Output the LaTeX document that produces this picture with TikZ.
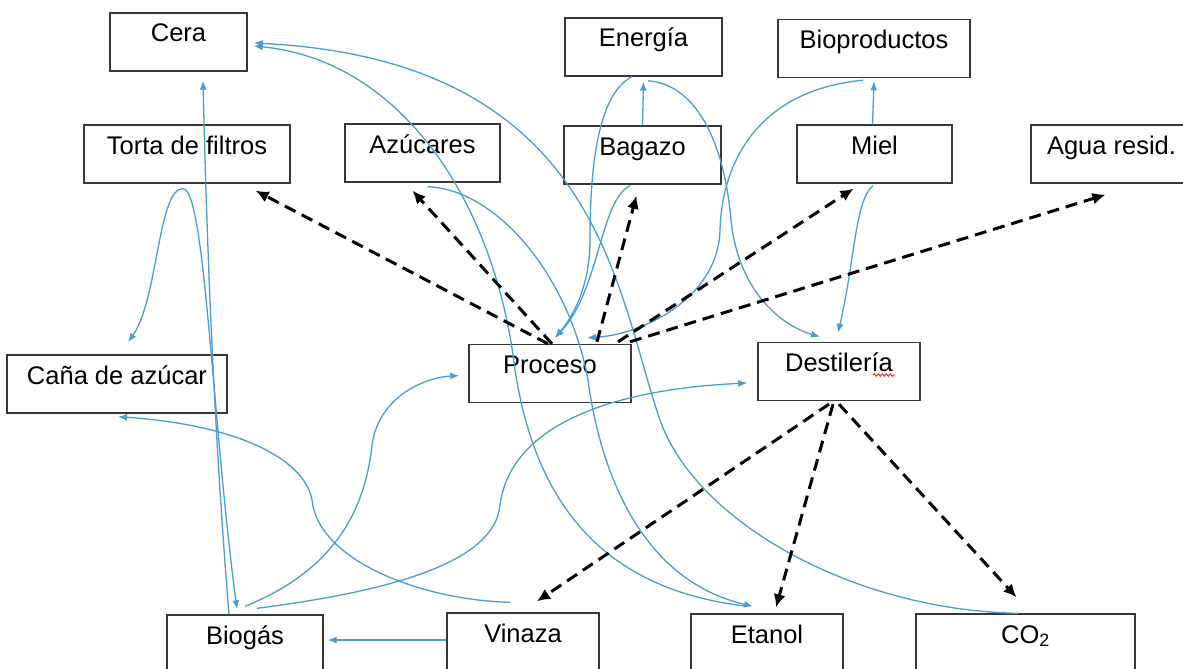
\documentclass[tikz,border=0pt]{standalone}
\usepackage{fontspec}
\setmainfont{Liberation Sans}
\usetikzlibrary{arrows.meta,decorations.pathmorphing}
\definecolor{flowblue}{RGB}{74,156,214}
\definecolor{boxgray}{RGB}{55,55,55}
\begin{document}
\begin{tikzpicture}[x=1pt,y=-1pt,
  procbox/.style={draw=boxgray, line width=1.4pt, inner xsep=0pt, inner ysep=0pt,
    text height=29pt, text depth=29pt, font=\fontsize{25.5}{30}\selectfont},
  flow/.style={draw=flowblue, line width=1.3pt, -{Latex[length=9pt,width=7pt]}},
  dashflow/.style={draw=black, line width=3pt, dash pattern=on 12pt off 7pt,
    -{Latex[length=13pt,width=12pt]}},
  spell/.style={draw=red, line width=0.8pt, decorate,
    decoration={snake,amplitude=1.2pt,segment length=4pt}}]
\useasboundingbox (0,0) rectangle (1183,669);
\fill[white] (0,0) rectangle (1183,669);
\clip (0,0) rectangle (1183,669);

% boxes
\node[procbox, minimum width=137pt] (cera)     at (178.5,42)  {Cera};
\node[procbox, minimum width=206pt] (torta)    at (187,154)   {Torta de filtros};
\node[procbox, minimum width=155pt] (azucares) at (422.5,153) {Azúcares};
\node[procbox, minimum width=157pt] (energia)  at (643.5,47)  {Energía};
\node[procbox, minimum width=157pt] (bagazo)   at (642.5,155) {Bagazo};
\node[procbox, minimum width=192pt] (bioprod)  at (874,48.5)  {Bioproductos};
\node[procbox, minimum width=155pt] (miel)     at (874.5,154) {Miel};
\node[procbox, minimum width=161pt] (agua)     at (1111.5,154) {Agua resid.};
\node[procbox, minimum width=220pt] (cana)     at (117,384)   {Caña de azúcar};
\node[procbox, minimum width=162pt] (proceso)  at (550,373.5) {Proceso};
\node[procbox, minimum width=162pt] (destil)   at (839,371.5) {Destilería};
\node[procbox, minimum width=156pt] (biogas)   at (245,644)   {Biogás};
\node[procbox, minimum width=152pt] (vinaza)   at (523,642)   {Vinaza};
\node[procbox, minimum width=152pt] (etanol)   at (767,643)   {Etanol};
\node[procbox, minimum width=219pt] (co2)      at (1025.5,643) {CO\textsubscript{2}};

% spell-check underline
\draw[spell] ([xshift=34pt,yshift=-3.5pt]destil.center) -- ([xshift=56pt,yshift=-3.5pt]destil.center);

% blue flows
\draw[flow] (bagazo.north) -- ([yshift=-5pt]energia.south);
\draw[flow] ([xshift=-2pt]miel.north) -- ([yshift=-3pt]bioprod.south);
\draw[flow] ([yshift=2pt]vinaza.west) -- ([xshift=4pt,yshift=4pt]biogas.east);
\draw[flow] ([xshift=-16pt]biogas.north) .. controls (214,430) and (207,250) .. ([xshift=24.5pt,yshift=-9pt]cera.south);
\draw[flow] ([xshift=-4pt,yshift=-5pt]torta.south) .. controls (158,188) and (158,300) .. ([xshift=11pt,yshift=12pt]cana.north);
\draw[flow] ([xshift=-4pt,yshift=-5pt]torta.south) .. controls (205,188) and (212,420) .. ([xshift=-8pt,yshift=5pt]biogas.north);
\draw[flow] ([xshift=-13pt,yshift=10pt]vinaza.north) .. controls (420,600) and (318,560) .. (312,500)
  .. controls (305,460) and (240,425) .. ([xshift=1pt,yshift=-3pt]cana.south);
\draw[flow] ([yshift=8pt]biogas.north) .. controls (335,570) and (365,510) .. (372,445)
  .. controls (378,400) and (420,378) .. ([xshift=-9pt,yshift=-2pt]proceso.west);
\draw[flow] ([xshift=12pt,yshift=6pt]biogas.north) .. controls (400,590) and (495,560) .. (500,505)
  .. controls (510,430) and (600,390) .. ([xshift=-10pt,yshift=-11.5pt]destil.west);
\draw[flow] ([xshift=-7.5pt]co2.north) .. controls (850,610) and (695,520) .. (660,420)
  .. controls (615,290) and (600,60) .. ([xshift=6pt,yshift=-1pt]cera.east);
\draw[flow] ([xshift=-19pt,yshift=7pt]etanol.north) .. controls (600,590) and (535,500) .. (515,370)
  .. controls (495,200) and (400,60) .. ([xshift=6pt,yshift=-4pt]cera.east);
\draw[flow] ([xshift=5pt,yshift=-4pt]azucares.south) .. controls (500,190) and (570,280) .. (588,380)
  .. controls (600,470) and (640,580) .. ([xshift=-14pt,yshift=7pt]etanol.north);
\draw[flow] ([xshift=-11.5pt]energia.south) .. controls (595,95) and (590,180) .. (590,240)
  .. controls (590,290) and (570,320) .. ([xshift=5pt,yshift=6pt]proceso.north);
\draw[flow] ([xshift=-12.5pt,yshift=-1pt]bagazo.south) .. controls (600,200) and (600,290) .. ([xshift=5pt,yshift=6pt]proceso.north);
\draw[flow] ([xshift=4.5pt,yshift=-4pt]energia.south) .. controls (700,85) and (725,150) .. (731,220)
  .. controls (738,290) and (780,325) .. ([xshift=-19pt,yshift=5pt]destil.north);
\draw[flow] ([xshift=-1.5pt,yshift=-2pt]miel.south) .. controls (855,200) and (855,260) .. ([xshift=-1pt,yshift=9pt]destil.north);
\draw[flow] ([xshift=-11pt,yshift=-2pt]bioprod.south) .. controls (760,90) and (722,160) .. (720,230)
  .. controls (718,300) and (640,335) .. ([xshift=37pt,yshift=6pt]proceso.north);

% dashed outputs
\draw[dashflow] ([xshift=-2pt]proceso.north) -- ([xshift=-35pt,yshift=-7pt]torta.south east);
\draw[dashflow] ([xshift=2pt]proceso.north) -- ([xshift=-10pt,yshift=-8pt]azucares.south);
\draw[dashflow] ([xshift=47pt,yshift=2pt]proceso.north) -- ([xshift=-6pt,yshift=-11pt]bagazo.south);
\draw[dashflow] ([xshift=68pt,yshift=2pt]proceso.north) -- ([xshift=-21pt,yshift=-5pt]miel.south);
\draw[dashflow] ([xshift=80pt,yshift=2pt]proceso.north) -- ([xshift=-6pt,yshift=-11pt]agua.south);
\draw[dashflow] ([xshift=-10pt,yshift=-3pt]destil.south) -- ([xshift=14pt,yshift=11pt]vinaza.north);
\draw[dashflow] ([xshift=-6pt,yshift=-3pt]destil.south) -- ([xshift=9pt,yshift=6pt]etanol.north);
\draw[dashflow] ([yshift=-3pt]destil.south) -- ([xshift=-9pt,yshift=16pt]co2.north);
\end{tikzpicture}
\end{document}
